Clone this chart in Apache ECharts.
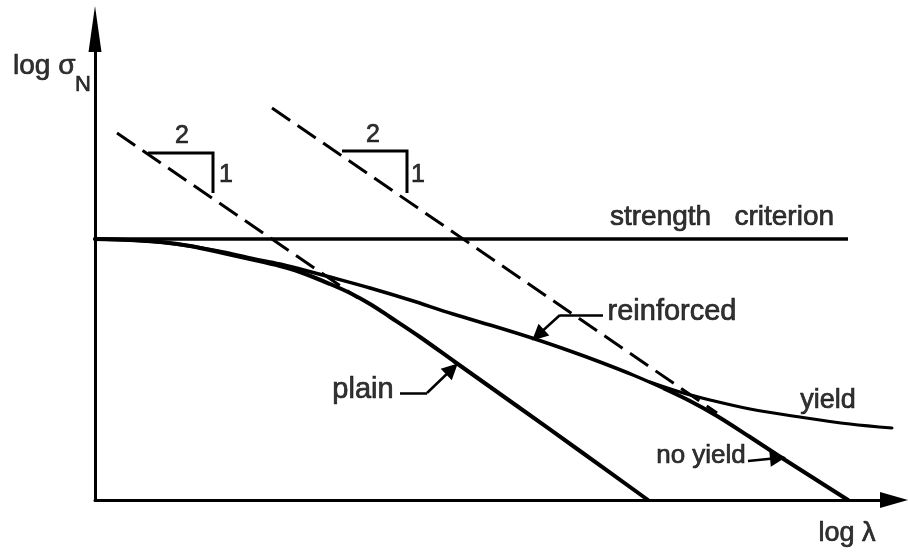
<!DOCTYPE html>
<html>
<head>
<meta charset="utf-8">
<title>Size effect: plain vs reinforced</title>
<script src="https://cdn.jsdelivr.net/npm/echarts@6/dist/echarts.min.js"></script>
<style>
  html, body { margin: 0; padding: 0; background: #fff; }
  #chart { width: 908px; height: 554px; }
</style>
</head>
<body>
<div id="chart"></div>
<script>
// Schematic coordinates: x = log λ, y = log σN (arbitrary units)
const strengthLine = [[0, 261], [753, 261]];

const plainCurve = [
  [0, 261], [35, 260], [65, 258], [95, 254], [128, 247], [155, 241],
  [185, 234], [205, 228], [235, 216], [255, 207], [275, 196], [295, 183],
  [325, 163], [360, 138], [422, 94], [485, 49], [553, 0]
];

const reinforcedCurve = [
  [0, 261], [35, 260], [65, 258], [95, 254], [128, 248], [155, 242],
  [185, 236], [205, 231], [235, 223], [275, 212], [315, 200], [358, 186],
  [405, 172], [440, 161], [475, 149], [505, 138], [538, 125], [570, 111]
];

const noYieldCurve = [
  [570, 111], [595, 99], [622, 84], [655, 63], [687, 42], [720, 21], [753, 0]
];

const yieldCurve = [
  [555, 118], [585, 108], [615, 100], [655, 91], [705, 83], [755, 76], [797, 72]
];

// Asymptotes of slope -1/2 (dashed)
const asymptotePlain = [[22, 367], [263, 202]];
const asymptoteReinforced = [[177, 392], [622, 87]];

// Slope triangles "2 : 1"
const slopeTriangleA = [[53, 347], [118, 347], [118, 307]];
const slopeTriangleB = [[247, 349], [312, 349], [312, 307]];

// Leader lines: plain segments and arrowed segments
const leaderSegments = [
  [[305, 107], [332, 107]],
  [[465, 185], [508, 185]]
];
const leaderArrows = [
  [[332, 107], [357, 131]],
  [[465, 185], [443, 165]],
  [[653, 39], [683, 42]]
];

// Text annotations
const noteTexts = ['strength   criterion', 'reinforced', 'plain', 'yield', 'no yield', 'log λ', 'log σ', 'N', '2', '1', '2', '1'];
const notePos = [
  [627, 283], [577, 188], [268, 110], [733, 99], [606, 44], [752, -34],
  [-82, 434], [-12, 415], [87, 364], [131, 325], [278, 365], [323, 325]
];

const FONT = '"Liberation Sans", Arial, Helvetica, sans-serif';
const noteSizes = {
  'strength   criterion': 28, 'reinforced': 29, 'plain': 29, 'yield': 27,
  'no yield': 26, 'log λ': 27, 'log σ': 28, 'N': 22, '2': 25, '1': 25
};

const chart = echarts.init(document.getElementById('chart'), null, { renderer: 'canvas' });

function curve(data, width) {
  return {
    type: 'line', data: data, smooth: 0.35, symbol: 'none', silent: true,
    lineStyle: { color: '#000', width: width, cap: 'round', join: 'round' }
  };
}
function dashed(data) {
  return {
    type: 'line', data: data, symbol: 'none', silent: true,
    lineStyle: { color: '#000', width: 3, type: [22, 9] }
  };
}
function polyline(data, width) {
  return {
    type: 'line', data: data, symbol: 'none', silent: true,
    lineStyle: { color: '#000', width: width, join: 'miter' }
  };
}

const axisCommon = {
  type: 'value',
  axisTick: { show: false },
  axisLabel: { show: false },
  splitLine: { show: false }
};

chart.setOption({
  animation: false,
  backgroundColor: '#fff',
  grid: { left: 95, top: 29, right: 14, bottom: 54 },
  xAxis: Object.assign({}, axisCommon, {
    min: 0, max: 799,
    axisLine: {
      show: true, onZero: false, symbol: ['none', 'triangle'], symbolSize: [16, 28],
      lineStyle: { color: '#000', width: 3 }
    }
  }),
  yAxis: Object.assign({}, axisCommon, {
    min: 0, max: 471,
    axisLine: {
      show: true, onZero: false, symbol: ['none', 'triangle'], symbolSize: [13, 46],
      lineStyle: { color: '#000', width: 3 }
    }
  }),
  series: [
    polyline(strengthLine, 3.5),
    curve(plainCurve, 4),
    curve(reinforcedCurve, 3.5),
    curve(noYieldCurve, 4),
    curve(yieldCurve, 3),
    dashed(asymptotePlain),
    dashed(asymptoteReinforced),
    polyline(slopeTriangleA, 3),
    polyline(slopeTriangleB, 3),
    {
      type: 'lines', coordinateSystem: 'cartesian2d', silent: true,
      symbol: ['none', 'none'],
      lineStyle: { color: '#000', width: 2.5, opacity: 1 },
      data: leaderSegments.map(c => ({ coords: c }))
    },
    {
      type: 'lines', coordinateSystem: 'cartesian2d', silent: true,
      symbol: ['none', 'triangle'], symbolSize: [10, 16],
      lineStyle: { color: '#000', width: 2.5, opacity: 1 },
      data: leaderArrows.map(c => ({ coords: c }))
    },
    {
      type: 'scatter', silent: true, clip: false, symbolSize: 0,
      data: noteTexts.map((t, i) => ({
        name: t, value: notePos[i],
        label: {
          show: true, formatter: t, position: 'inside',
          align: (t === 'log σ') ? 'left' : 'center', verticalAlign: 'middle',
          color: '#000', fontFamily: FONT, fontSize: noteSizes[t] || 27,
          textBorderColor: '#000', textBorderWidth: 0.7
        }
      }))
    }
  ]
});
</script>
</body>
</html>
